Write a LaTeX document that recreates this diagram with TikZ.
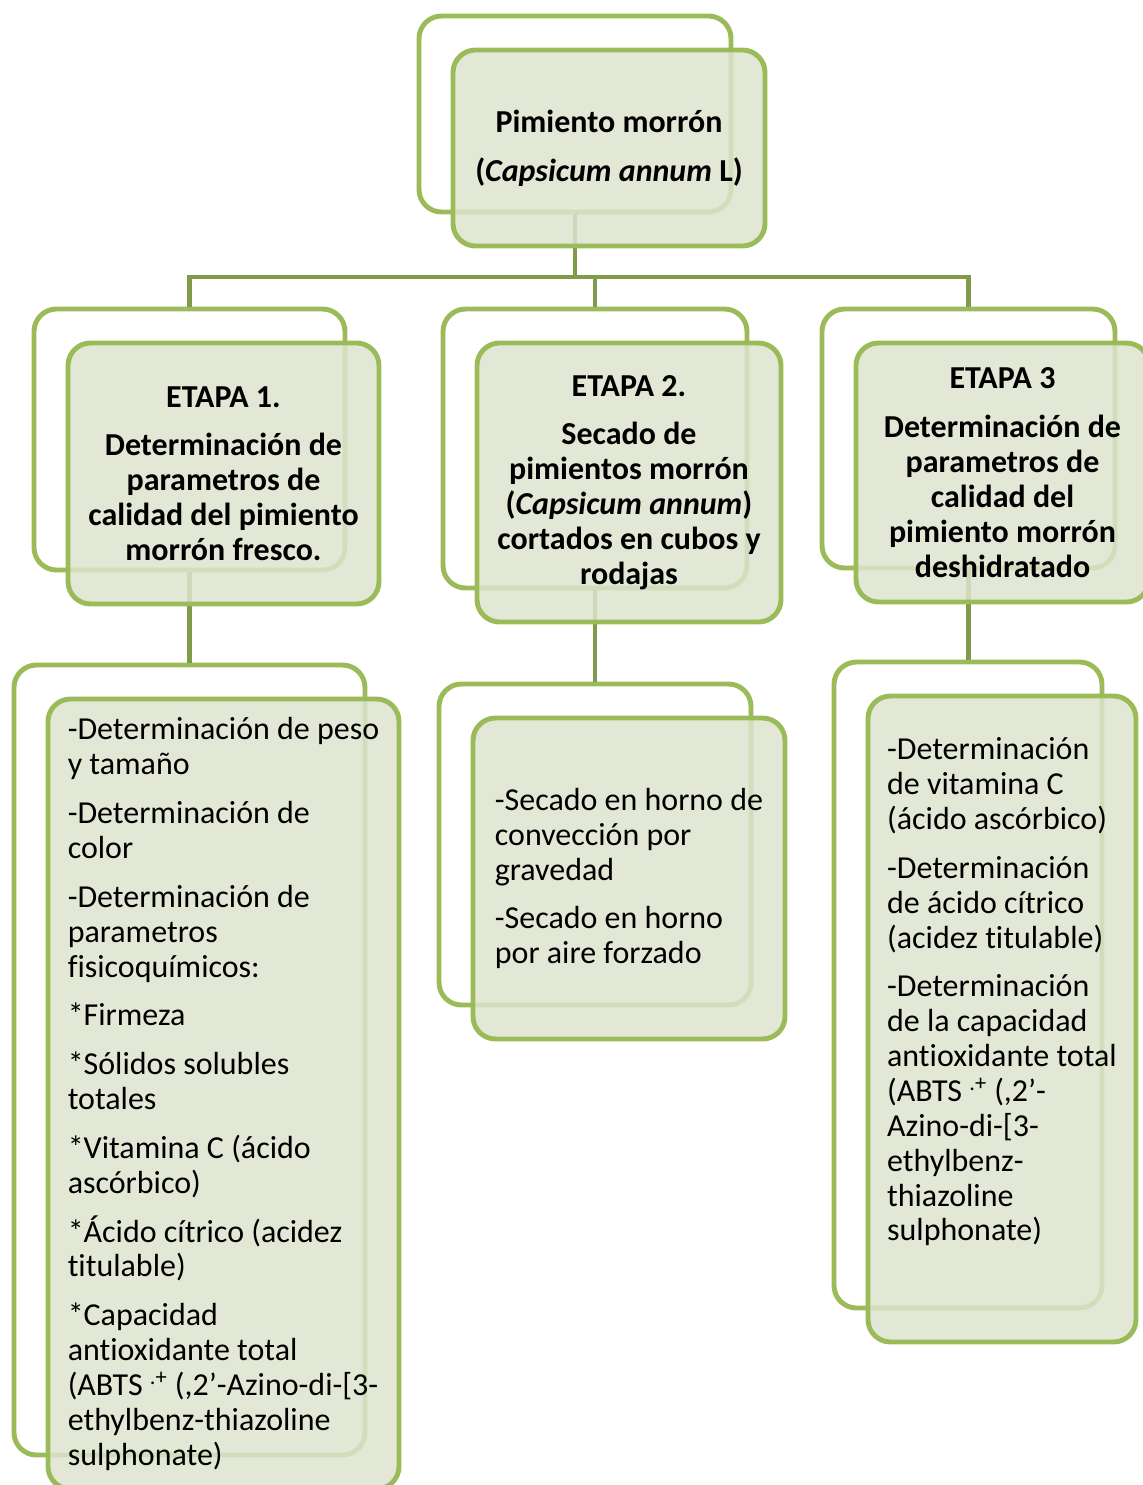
\documentclass[tikz,border=0pt]{standalone}
\usepackage{fontspec}
\setmainfont{Carlito}[Ligatures=NoCommon]
\definecolor{boxline}{HTML}{9BBB59}
\definecolor{boxfill}{HTML}{DDE4CE}
\definecolor{joinline}{HTML}{809C4B}
\tikzset{
  back/.style={draw=boxline, line width=2.8pt, fill=white, rounded corners=0.45cm, inner sep=0pt},
  front/.style={draw=boxline, line width=2.8pt, fill=boxfill, fill opacity=0.85, text opacity=1,
    rounded corners=0.45cm, inner sep=0pt, font=\fontsize{18.2pt}{19.84pt}\selectfont},
  head/.style={front, align=center, font=\fontsize{18.2pt}{19.84pt}\selectfont\bfseries},
  detail/.style={front, align=left},
  joinstyle/.style={draw=joinline, line width=2.3pt}
}

\begin{document}
\begin{tikzpicture}
\useasboundingbox (0,0) rectangle (22.86,-29.70);
% back frames
\node[back, minimum width=6.24cm, minimum height=3.92cm] (root-b) at (11.50,-2.28) {};
\node[back, minimum width=6.22cm, minimum height=5.22cm] (e1-b) at (3.79,-8.79) {};
\node[back, minimum width=6.08cm, minimum height=5.58cm] (e2-b) at (11.90,-8.97) {};
\node[back, minimum width=5.86cm, minimum height=5.18cm] (e3-b) at (19.37,-8.77) {};
\node[back, minimum width=7.02cm, minimum height=15.80cm] (d1-b) at (3.79,-21.20) {};
\node[back, minimum width=6.24cm, minimum height=6.42cm] (d2-b) at (11.90,-16.89) {};
\node[back, minimum width=5.36cm, minimum height=12.92cm] (d3-b) at (19.36,-19.70) {};

% connectors
\coordinate (bar) at (0,-5.54);
\draw[joinstyle] (root-b.south) -- (root-b.south |- bar) -| (e1-b.north);
\draw[joinstyle] (root-b.south |- bar) -| (e2-b.north);
\draw[joinstyle] (root-b.south |- bar) -| (e3-b.north);
\draw[joinstyle] (e1-b.south) -- (e1-b.south |- d1-b.north);
\draw[joinstyle] (e2-b.south) -- (e2-b.south |- d2-b.north);
\draw[joinstyle] (e3-b.south) -- (e3-b.south |- d3-b.north);

% front boxes
\node[head, minimum width=6.24cm, minimum height=3.92cm] (root) at (12.18,-2.96)
  {Pimiento morrón\\[7.94pt](\textit{Capsicum annum} L)};
\node[head, minimum width=6.22cm, minimum height=5.22cm] (e1) at (4.47,-9.47)
  {ETAPA 1.\\[7.94pt]Determinación de\\parametros de\\calidad del pimiento\\morrón fresco.};
\node[head, minimum width=6.08cm, minimum height=5.58cm] (e2) at (12.58,-9.65)
  {ETAPA 2.\\[7.94pt]Secado de\\pimientos morrón\\(\textit{Capsicum annum})\\cortados en cubos y\\rodajas};
\node[head, minimum width=5.86cm, minimum height=5.18cm] (e3) at (20.05,-9.45)
  {ETAPA 3\\[7.94pt]Determinación de\\parametros de\\calidad del\\pimiento morrón\\deshidratado};
\node[detail, minimum width=7.02cm, minimum height=15.80cm] (d1) at (4.47,-21.88)
  {-Determinación de peso\\y tamaño\\[7.94pt]
   -Determinación de\\color\\[7.94pt]
   -Determinación de\\parametros\\fisicoquímicos:\\[7.94pt]
   *Firmeza\\[7.94pt]
   *Sólidos solubles\\totales\\[7.94pt]
   *Vitamina C (ácido\\ascórbico)\\[7.94pt]
   *Ácido cítrico (acidez\\titulable)\\[7.94pt]
   *Capacidad\\antioxidante total\\(ABTS \textsuperscript{.+} (,2’-Azino-di-[3-\\ethylbenz-thiazoline\\sulphonate)};
\node[detail, minimum width=6.24cm, minimum height=6.42cm] (d2) at (12.58,-17.57)
  {-Secado en horno de\\convección por\\gravedad\\[7.94pt]
   -Secado en horno\\por aire forzado};
\node[detail, minimum width=5.36cm, minimum height=12.92cm] (d3) at (20.04,-20.38)
  {-Determinación\\de vitamina C\\(ácido ascórbico)\\[7.94pt]
   -Determinación\\de ácido cítrico\\(acidez titulable)\\[7.94pt]
   -Determinación\\de la capacidad\\antioxidante total\\(ABTS \textsuperscript{.+} (,2’-\\Azino-di-[3-\\ethylbenz-\\thiazoline\\sulphonate)\\[7.94pt]\strut};
\end{tikzpicture}
\end{document}
